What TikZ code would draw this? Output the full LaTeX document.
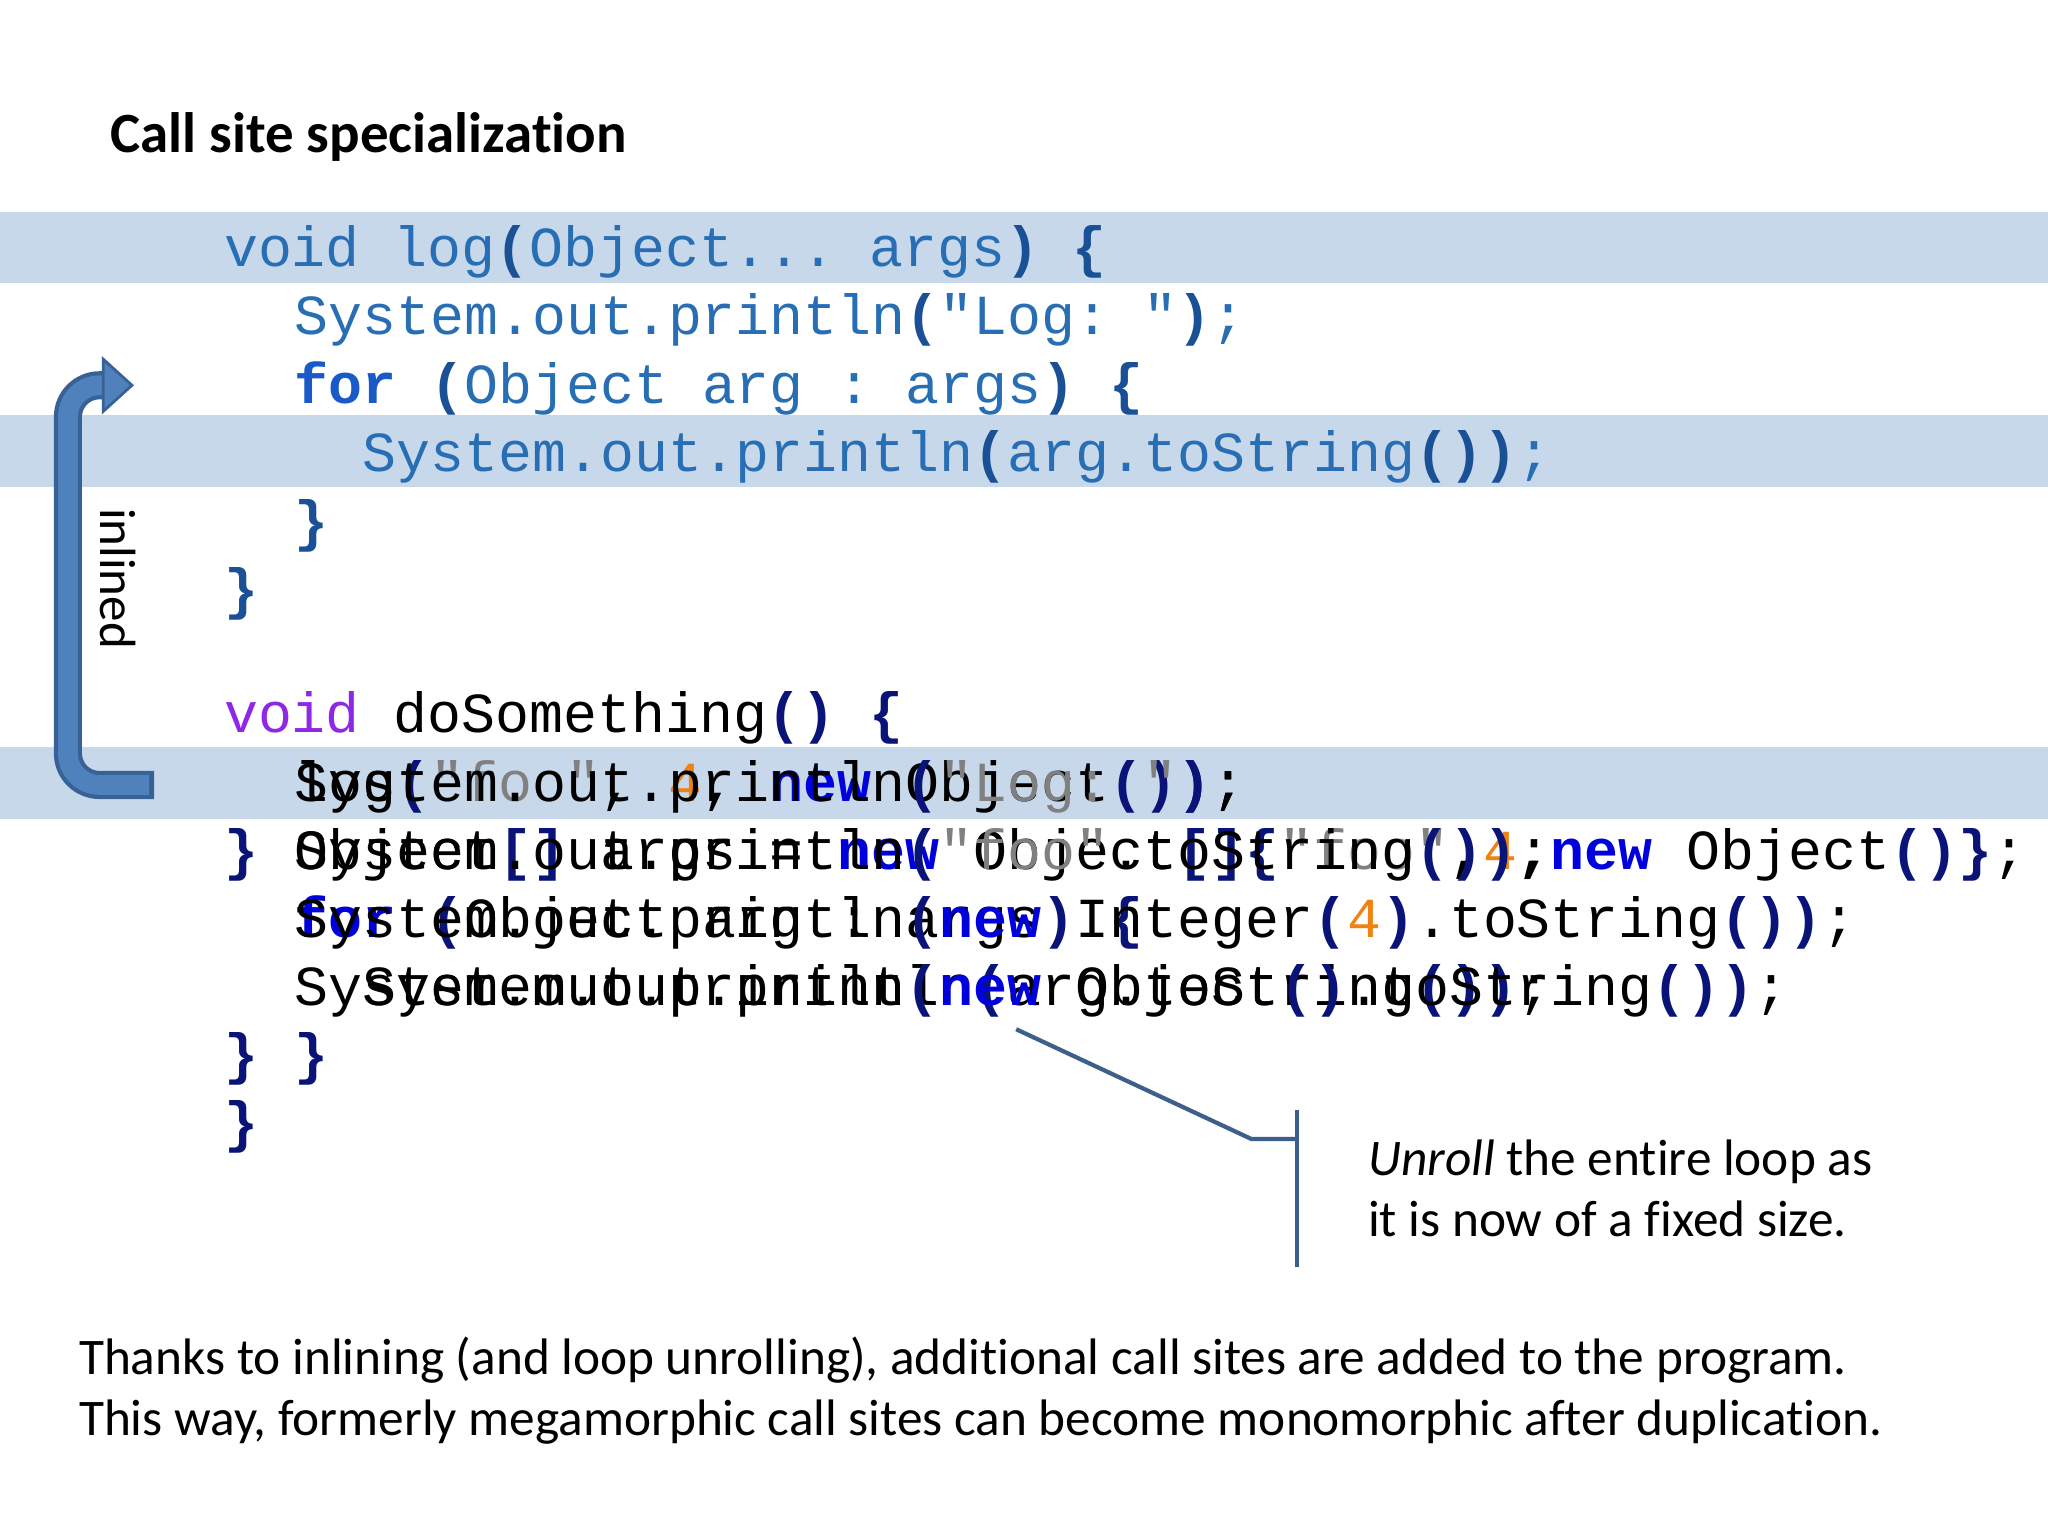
\documentclass[tikz,border=0pt]{standalone}
\usepackage{fontspec}
\setmainfont[Ligatures=NoCommon]{Carlito}
\setmonofont{Liberation Mono}
\definecolor{hl}{RGB}{200,216,235}
\definecolor{topc}{RGB}{40,110,180}
\definecolor{toppn}{RGB}{25,80,150}
\definecolor{kwtop}{RGB}{25,90,200}
\definecolor{pnc}{RGB}{10,20,120}
\definecolor{kwc}{RGB}{0,0,220}
\definecolor{vdc}{RGB}{140,40,230}
\definecolor{stc}{RGB}{128,128,128}
\definecolor{nmc}{RGB}{240,130,20}
\definecolor{arrf}{RGB}{79,129,189}
\definecolor{arrd}{RGB}{56,98,150}
\definecolor{callc}{RGB}{60,95,140}
\newcommand\tpn[1]{\textbf{\textcolor{toppn}{#1}}}
\newcommand\pn[1]{\textbf{\textcolor{pnc}{#1}}}
\newcommand\kw[1]{\textbf{\textcolor{kwc}{#1}}}
\newcommand\vd[1]{\textcolor{vdc}{#1}}
\newcommand\strc[1]{\textcolor{stc}{#1}}
\newcommand\nmb[1]{\textcolor{nmc}{#1}}
\begin{document}
\begin{tikzpicture}[x=0.013061cm,y=-0.013061cm,
  code/.style={anchor=base west,inner sep=0pt,font=\ttfamily\fontsize{16.1}{19}\selectfont},
  topcode/.style={code,text=topc},
  sans/.style={anchor=base west,inner sep=0pt,font=\fontsize{14.6}{17.5}\selectfont}]
\useasboundingbox (0,0) rectangle (1568,1176);
\fill[white] (0,0) rectangle (1568,1176);
% highlight bands
\fill[hl] (0,162) rectangle (1568,217);
\fill[hl] (0,318) rectangle (1568,373);
\fill[hl] (0,572) rectangle (1568,627);
% title
\node[sans,font=\bfseries\fontsize{16.2}{19}\selectfont] (title) at (84,117) {Call site specialization};
% log method
\node[topcode] (l1) at (171,204) {void~log\tpn{(}Object...~args\tpn{)}~\tpn{\{}};
\node[topcode] (l2) at (225,256) {System.out.println\tpn{(}"Log:~"\tpn{)};};
\node[topcode] (l3) at (225,309) {\textbf{\textcolor{kwtop}{for}}~\tpn{(}Object~arg~:~args\tpn{)}~\tpn{\{}};
\node[topcode] (l4) at (277,361) {System.out.println\tpn{(}arg.toString\tpn{())};};
\node[topcode] (l5) at (225,414) {\tpn{\}}};
\node[topcode] (l6) at (171,466) {\tpn{\}}};
% doSomething
\node[code] (d1) at (171,561) {\vd{void}~doSomething\pn{()}~\pn{\{}};
% overlapping layers
\node[code] (a1) at (225,614) {log\pn{(}\strc{"foo"},~\nmb{4},~\kw{new}~Object\pn{()}\pn{)};};
\node[code] (b1) at (225,614) {System.out.println\pn{(}\strc{"Log:~"}\pn{)};};
\node[code] (a2c) at (171,666) {\pn{\}}};
\node[code] (a2) at (225,666) {Object\pn{[]}~args~=~\kw{new}~Object\pn{[]\{}\strc{"foo"},\nmb{4},\kw{new}~Object\pn{()\}};};
\node[code] (b2) at (225,666) {System.out.println\pn{(}\strc{"foo"}.toString\pn{())};};
\node[code] (a3) at (225,718) {\kw{for}~\pn{(}Object~arg~:~args\pn{)}~\pn{\{}};
\node[code] (b3) at (225,718) {System.out.println\pn{(}\kw{new}~Integer\pn{(}\nmb{4}\pn{)}.toString\pn{())};};
\node[code] (a4) at (277,770) {System.out.println\pn{(}arg.toString\pn{())};};
\node[code] (b4) at (225,770) {System.out.println\pn{(}\kw{new}~Object\pn{()}.toString\pn{())};};
\node[code] (b5) at (171,822) {\pn{\}}};
\node[code] (a5) at (225,822) {\pn{\}}};
\node[code] (a6) at (171,874) {\pn{\}}};
% inlined arrow
\coordinate (as) at (118,601);
\coordinate (ae) at (82,295);
\draw[arrd,line width=8pt,rounded corners=9pt] (as) -| (52,295) -- (ae);
\draw[arrf,line width=5.6pt,rounded corners=9pt] ([xshift=-1.5pt]as) -| (52,295) -- ([xshift=1pt]ae);
\fill[arrf,draw=arrd,line width=0.8pt] (79,275) -- (101,295) -- (79,315) -- cycle;
\node[anchor=center,rotate=-90,inner sep=0pt,font=\fontsize{14.5}{16}\selectfont] (inl) at (90,443) {inlined};
% callout
\coordinate (c0) at (778,788);
\coordinate (c1) at (958,872);
\coordinate (c2) at (993,872);
\draw[callc,line width=1.2pt] (c0) -- (c1) -- (c2);
\draw[callc,line width=1.2pt] (993,850) -- (993,970);
\node[sans,align=left,anchor=north west] (call) at (1047,872) {\textit{Unroll} the entire loop as\\it is now of a fixed size.};
% bottom
\node[sans] (bt1) at (60,1052) {Thanks to inlining (and loop unrolling), additional call sites are added to the program.};
\node[sans] (bt2) at (60,1099) {This way, formerly megamorphic call sites can become monomorphic after duplication.};
\end{tikzpicture}
\end{document}
